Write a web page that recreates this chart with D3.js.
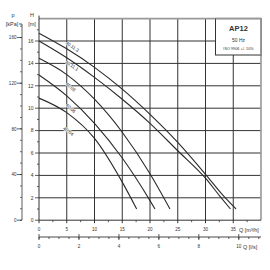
<!DOCTYPE html>
<html><head><meta charset="utf-8">
<script src="https://cdn.jsdelivr.net/npm/d3@7"></script>
<style>body{margin:0;background:#fff}svg{display:block}text{font-family:"Liberation Sans",Arial,sans-serif}</style>
</head><body><svg id="c" width="270" height="270"></svg>
<script>
const curveNames = ["40.11.3","40.11.1","40.08","40.06","40.04"];
const q1 = [0,5,10,15,20,25,30,33,35.5];
const h1 = [16.7,15.3,13.65,11.7,9.45,6.95,4.1,2.3,1.0];
const q2 = [0,5,10,15,20,25,30,32.5,34.5];
const h2 = [16.0,14.5,12.75,10.8,8.65,6.2,3.75,2.2,1.0];
const q3 = [0,5,10,15,20,23.6];
const h3 = [14.45,13.0,10.8,7.85,4.15,1.0];
const q4 = [0,5,10,15,20,20.9];
const h4 = [12.96,11.1,8.65,5.55,1.75,1.0];
const q5 = [0,5,10,15,17.6];
const h5 = [10.9,9.6,7.3,3.4,1.0];
const labelQ = [6.0,5.9,5.7,5.7,5.3];
const labelH = [15.5,13.8,11.9,10.0,7.95];
const qTicks = [0,5,10,15,20,25,30,35];
const hTicks = [0,2,4,6,8,10,12,14,16];
const kpaTicks = [0,40,80,120,160];
const lsTicks = [0,2,4,6,8,10];
const legendTitle = "AP12", legendFreq = "50 Hz", legendNorm = "ISO 9906 +/- 10%";

const Qs=[q1,q2,q3,q4,q5], Hs=[h1,h2,h3,h4,h5];
const svg = d3.select("#c");
const x = d3.scaleLinear().domain([0,40]).range([39,261]);
const y = d3.scaleLinear().domain([0,18]).range([220.2,18.6]);
const xl = d3.scaleLinear().domain([0,40/3.6]).range([39,261]);
const yk = d3.scaleLinear().domain([0,18*9.81]).range([220.2,18.6]);
const dark="#333";

// grid
svg.append("g").selectAll("line").data(qTicks.slice(1)).join("line")
 .attr("x1",d=>x(d)).attr("x2",d=>x(d)).attr("y1",y(18)).attr("y2",y(0)+3)
 .attr("stroke",dark).attr("stroke-width",1);
svg.append("g").selectAll("line").data(hTicks.slice(1)).join("line")
 .attr("x1",x(0)).attr("x2",x(40)).attr("y1",d=>y(d)).attr("y2",d=>y(d))
 .attr("stroke",dark).attr("stroke-width",1);
// frame
svg.append("line").attr("x1",x(0)).attr("x2",x(40)).attr("y1",y(18)).attr("y2",y(18)).attr("stroke","#999").attr("stroke-width",1.6);
svg.append("line").attr("x1",x(40)).attr("x2",x(40)).attr("y1",y(18)).attr("y2",y(0)).attr("stroke","#999").attr("stroke-width",1.6);
svg.append("line").attr("x1",x(0)).attr("x2",x(40)).attr("y1",y(0)).attr("y2",y(0)).attr("stroke",dark).attr("stroke-width",1);
svg.append("line").attr("x1",x(0)).attr("x2",x(0)).attr("y1",y(18)-3).attr("y2",y(0)).attr("stroke",dark).attr("stroke-width",1);

// H axis ticks
const hMinor = d3.range(1,18,1).filter(d=>d%2===1);
svg.append("g").selectAll("line").data(hMinor).join("line")
 .attr("x1",x(0)-2).attr("x2",x(0)).attr("y1",d=>y(d)).attr("y2",d=>y(d)).attr("stroke",dark).attr("stroke-width",0.8);
svg.append("g").selectAll("line").data(hTicks).join("line")
 .attr("x1",x(0)-4).attr("x2",x(0)).attr("y1",d=>y(d)).attr("y2",d=>y(d)).attr("stroke",dark).attr("stroke-width",0.8);
svg.append("g").selectAll("text").data(hTicks).join("text")
 .attr("x",x(0)-5.5).attr("y",d=>y(d)+1.8).attr("text-anchor","end").attr("font-size",5).attr("fill","#333").text(d=>d);
svg.append("text").attr("x",32).attr("y",17).attr("text-anchor","middle").attr("font-size",5.5).attr("fill","#333").text("H");
svg.append("text").attr("x",32).attr("y",26).attr("text-anchor","middle").attr("font-size",5.5).attr("fill","#333").text("[m]");

// kPa axis
const kx=22;
svg.append("line").attr("x1",kx).attr("x2",kx).attr("y1",24).attr("y2",yk(0)).attr("stroke",dark).attr("stroke-width",0.8);
svg.append("g").selectAll("line").data(d3.range(0,171,10)).join("line")
 .attr("x1",kx-2).attr("x2",kx).attr("y1",d=>yk(d)).attr("y2",d=>yk(d)).attr("stroke",dark).attr("stroke-width",0.7);
svg.append("g").selectAll("line").data(kpaTicks).join("line")
 .attr("x1",kx-5).attr("x2",kx).attr("y1",d=>yk(d)).attr("y2",d=>yk(d)).attr("stroke",dark).attr("stroke-width",0.8);
svg.append("g").selectAll("text").data(kpaTicks).join("text")
 .attr("x",kx-5.5).attr("y",d=>yk(d)+1.8).attr("text-anchor","end").attr("font-size",4.6).attr("fill","#333").text(d=>d);
svg.append("line").attr("x1",kx-3).attr("x2",kx).attr("y1",24).attr("y2",24).attr("stroke",dark).attr("stroke-width",0.8);
svg.append("text").attr("x",13).attr("y",17).attr("text-anchor","middle").attr("font-size",5.5).attr("fill","#333").text("p");
svg.append("text").attr("x",12).attr("y",26).attr("text-anchor","middle").attr("font-size",5.5).attr("fill","#333").text("[kPa]");

// Q m3/h axis
svg.append("g").selectAll("line").data(d3.range(2.5,40,5)).join("line")
 .attr("x1",d=>x(d)).attr("x2",d=>x(d)).attr("y1",y(0)).attr("y2",y(0)+2).attr("stroke",dark).attr("stroke-width",0.8);
svg.append("line").attr("x1",x(0)).attr("x2",x(0)).attr("y1",y(0)).attr("y2",y(0)+3).attr("stroke",dark);
svg.append("g").selectAll("text").data(qTicks).join("text")
 .attr("x",d=>x(d)).attr("y",231).attr("text-anchor","middle").attr("font-size",4.6).attr("fill","#333").text(d=>d);
svg.append("text").attr("x",239).attr("y",231.5).attr("font-size",5.5).attr("fill","#333").text("Q [m³/h]");

// l/s axis
const ly=237;
svg.append("line").attr("x1",x(0)).attr("x2",x(40)).attr("y1",ly).attr("y2",ly).attr("stroke",dark).attr("stroke-width",0.9);
svg.append("g").selectAll("line").data(d3.range(0,11.1,0.5)).join("line")
 .attr("x1",d=>xl(d)).attr("x2",d=>xl(d)).attr("y1",ly).attr("y2",ly+2).attr("stroke",dark).attr("stroke-width",0.8);
svg.append("g").selectAll("line").data(lsTicks).join("line")
 .attr("x1",d=>xl(d)).attr("x2",d=>xl(d)).attr("y1",ly-3).attr("y2",ly+3).attr("stroke",dark).attr("stroke-width",0.8);
svg.append("g").selectAll("text").data(lsTicks).join("text")
 .attr("x",d=>xl(d)).attr("y",248).attr("text-anchor","middle").attr("font-size",4.6).attr("fill","#333").text(d=>d);
svg.append("text").attr("x",243).attr("y",248.5).attr("font-size",5.5).attr("fill","#333").text("Q [l/s]");

// curves
const line = d3.line().x(d=>x(d[0])).y(d=>y(d[1])).curve(d3.curveMonotoneX);
Qs.forEach((qs,i)=>{
  const pts = qs.map((q,j)=>[q,Hs[i][j]]);
  svg.append("path").attr("d",line(pts)).attr("fill","none").attr("stroke","#2a2a2a").attr("stroke-width",1.1);
});
// curve labels
Qs.forEach((qs,i)=>{
  const f = d3.scaleLinear().domain(qs).range(Hs[i]);
  const q=labelQ[i], h=labelH[i];
  const ang = Math.atan2(y(f(q+1.5))-y(f(q-1.5)), x(q+1.5)-x(q-1.5))*180/Math.PI;
  svg.append("text").attr("transform",`translate(${x(q)},${y(h)}) rotate(${ang})`)
    .attr("text-anchor","middle").attr("dy",1.6).attr("font-size",4.6)
    .attr("stroke","#fff").attr("stroke-width",1.0).attr("paint-order","stroke")
    .attr("fill","#222").text(curveNames[i]);
});

// legend box
svg.append("rect").attr("x",215.5).attr("y",y(18)).attr("width",x(40)-215.5).attr("height",55-y(18))
 .attr("fill","#fff").attr("stroke",dark).attr("stroke-width",1);
svg.append("line").attr("x1",215.5).attr("x2",x(40)).attr("y1",y(18)).attr("y2",y(18)).attr("stroke","#999").attr("stroke-width",1.6);
svg.append("line").attr("x1",x(40)).attr("x2",x(40)).attr("y1",y(18)).attr("y2",55).attr("stroke","#999").attr("stroke-width",1.6);
svg.append("text").attr("x",238.5).attr("y",31).attr("text-anchor","middle").attr("font-size",7.5).attr("font-weight","bold").attr("fill","#333").text(legendTitle);
svg.append("text").attr("x",238.5).attr("y",42).attr("text-anchor","middle").attr("font-size",5).attr("fill","#333").text(legendFreq);
svg.append("text").attr("x",238.5).attr("y",49.5).attr("text-anchor","middle").attr("font-size",3.8).attr("fill","#333").text(legendNorm);
</script></body></html>
